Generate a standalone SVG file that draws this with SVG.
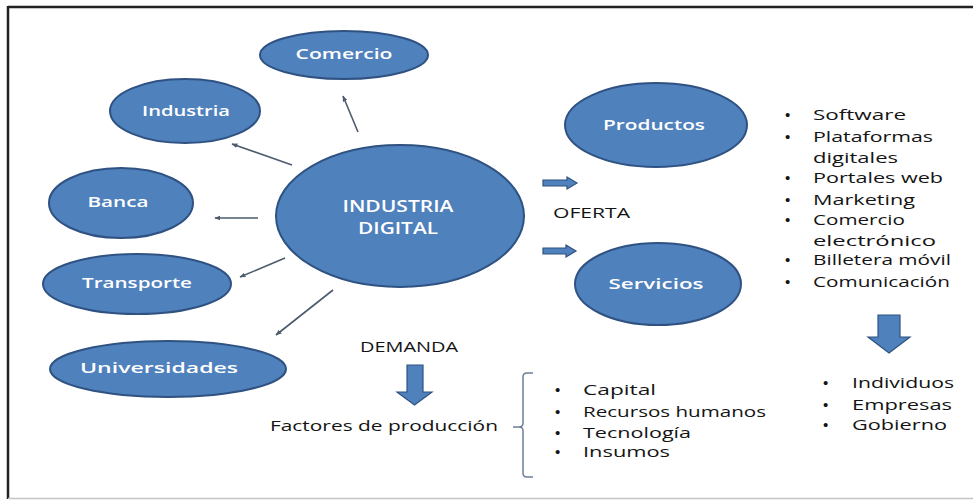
<svg xmlns="http://www.w3.org/2000/svg" width="973" height="500" viewBox="0 0 973 500">
  <defs>
    <style>
      .node { fill: #4f81bd; stroke: #2f5282; stroke-width: 2; }
      .lbl { font-family: "Open Sans", "Liberation Sans", sans-serif; font-size: 15px; font-weight: 600; fill: #ffffff; text-anchor: middle; }
      .big { font-size: 17px; }
      .txt { font-family: "Open Sans", "Liberation Sans", sans-serif; font-size: 15px; fill: #141414; }
      .bul { font-family: "Liberation Sans", sans-serif; font-size: 15px; fill: #141414; }
      .conn { stroke: #4d5b6e; stroke-width: 1.6; fill: none; marker-end: url(#ah); }
      .block { fill: #4f81bd; stroke: #2f5282; stroke-width: 1.2; }
    </style>
    <marker id="ah" viewBox="0 0 10 10" refX="9" refY="5" markerWidth="6" markerHeight="6" orient="auto" markerUnits="userSpaceOnUse">
      <path d="M0,1 L10,5 L0,9 Z" fill="#4d5b6e"/>
    </marker>
  </defs>

  <rect x="0" y="0" width="973" height="500" fill="#ffffff"/>

  <!-- frame -->
  <g id="frame">
    <line x1="8" y1="7" x2="973" y2="7" stroke="#222" stroke-width="2.5"/>
    <line x1="8" y1="6" x2="8" y2="499" stroke="#222" stroke-width="2.5"/>
    <line x1="8" y1="498.5" x2="973" y2="498.5" stroke="#c4c4c4" stroke-width="1.5"/>
  </g>

  <!-- connectors -->
  <g id="connectors">
    <line class="conn" x1="358" y1="132" x2="343" y2="96"/>
    <line class="conn" x1="292" y1="165" x2="232" y2="144"/>
    <line class="conn" x1="258" y1="218" x2="215" y2="218"/>
    <line class="conn" x1="285" y1="258" x2="240" y2="277"/>
    <line class="conn" x1="333" y1="290" x2="276" y2="335"/>
    <path class="block" d="M543,180 H567 V177 L577,183 L567,189 V186 H543 Z"/>
    <path class="block" d="M543,248 H566 V245 L576,251 L566,257 V254 H543 Z"/>
    <path class="block" d="M407,365 H423 V392 H432 L414.5,405 L397,392 H407 Z"/>
    <path class="block" d="M878,315 H900 V337 H910 L889,353 L868,337 H878 Z"/>
    <path d="M533,373 H527 Q523,373 523,377 V423 Q523,427 519,427 H513 M519,427 Q523,427 523,431 V473 Q523,477 527,477 H533" fill="none" stroke="#6b7f99" stroke-width="1.5"/>
  </g>

  <g id="n-digital">
    <ellipse class="node" cx="400" cy="216" rx="124" ry="71"/>
    <text class="lbl big" x="398" y="212" textLength="111" lengthAdjust="spacingAndGlyphs">INDUSTRIA</text>
    <text class="lbl big" x="398" y="234" textLength="80" lengthAdjust="spacingAndGlyphs">DIGITAL</text>
  </g>
  <g id="n-comercio">
    <ellipse class="node" cx="344" cy="55" rx="84" ry="24"/>
    <text class="lbl" x="344" y="59" textLength="97" lengthAdjust="spacingAndGlyphs">Comercio</text>
  </g>
  <g id="n-industria">
    <ellipse class="node" cx="185" cy="111" rx="75" ry="32"/>
    <text class="lbl" x="186" y="116" textLength="88" lengthAdjust="spacingAndGlyphs">Industria</text>
  </g>
  <g id="n-banca">
    <ellipse class="node" cx="121" cy="203" rx="72" ry="35"/>
    <text class="lbl" x="118" y="207" textLength="61" lengthAdjust="spacingAndGlyphs">Banca</text>
  </g>
  <g id="n-transporte">
    <ellipse class="node" cx="137" cy="284" rx="94" ry="30"/>
    <text class="lbl" x="137" y="288" textLength="110" lengthAdjust="spacingAndGlyphs">Transporte</text>
  </g>
  <g id="n-universidades">
    <ellipse class="node" cx="168" cy="369" rx="118" ry="28"/>
    <text class="lbl" x="159" y="373" textLength="158" lengthAdjust="spacingAndGlyphs">Universidades</text>
  </g>
  <g id="n-productos">
    <ellipse class="node" cx="656" cy="125" rx="91" ry="42"/>
    <text class="lbl" x="654" y="130" textLength="102" lengthAdjust="spacingAndGlyphs">Productos</text>
  </g>
  <g id="n-servicios">
    <ellipse class="node" cx="658" cy="284" rx="83" ry="41"/>
    <text class="lbl" x="656" y="289" textLength="95" lengthAdjust="spacingAndGlyphs">Servicios</text>
  </g>

  <!-- labels -->
  <g id="oferta">
    <text class="txt" x="553" y="218" textLength="77" lengthAdjust="spacingAndGlyphs">OFERTA</text>
  </g>
  <g id="demanda">
    <text class="txt" x="360" y="352" textLength="98" lengthAdjust="spacingAndGlyphs">DEMANDA</text>
    <text class="txt" x="270" y="431" textLength="228" lengthAdjust="spacingAndGlyphs">Factores de producción</text>
  </g>

  <!-- product / service list -->
  <g id="list-oferta">
    <text class="bul" x="785" y="120">•</text>
    <text class="txt" x="813" y="120" textLength="93" lengthAdjust="spacingAndGlyphs">Software</text>
    <text class="bul" x="785" y="142">•</text>
    <text class="txt" x="813" y="142" textLength="120" lengthAdjust="spacingAndGlyphs">Plataformas</text>
    <text class="txt" x="813" y="163" textLength="85" lengthAdjust="spacingAndGlyphs">digitales</text>
    <text class="bul" x="785" y="183">•</text>
    <text class="txt" x="813" y="183" textLength="130" lengthAdjust="spacingAndGlyphs">Portales web</text>
    <text class="bul" x="785" y="205">•</text>
    <text class="txt" x="813" y="205" textLength="102" lengthAdjust="spacingAndGlyphs">Marketing</text>
    <text class="bul" x="785" y="225">•</text>
    <text class="txt" x="813" y="225" textLength="92" lengthAdjust="spacingAndGlyphs">Comercio</text>
    <text class="txt" x="813" y="246" textLength="123" lengthAdjust="spacingAndGlyphs">electrónico</text>
    <text class="bul" x="785" y="265">•</text>
    <text class="txt" x="813" y="265" textLength="138" lengthAdjust="spacingAndGlyphs">Billetera móvil</text>
    <text class="bul" x="785" y="287">•</text>
    <text class="txt" x="813" y="287" textLength="137" lengthAdjust="spacingAndGlyphs">Comunicación</text>
  </g>

  <!-- consumers list -->
  <g id="list-destino">
    <text class="bul" x="823" y="388">•</text>
    <text class="txt" x="852" y="388" textLength="102" lengthAdjust="spacingAndGlyphs">Individuos</text>
    <text class="bul" x="823" y="410">•</text>
    <text class="txt" x="852" y="410" textLength="100" lengthAdjust="spacingAndGlyphs">Empresas</text>
    <text class="bul" x="823" y="430">•</text>
    <text class="txt" x="852" y="430" textLength="95" lengthAdjust="spacingAndGlyphs">Gobierno</text>
  </g>

  <!-- production factors list -->
  <g id="list-factores">
    <text class="bul" x="555" y="395">•</text>
    <text class="txt" x="583" y="395" textLength="73" lengthAdjust="spacingAndGlyphs">Capital</text>
    <text class="bul" x="555" y="417">•</text>
    <text class="txt" x="583" y="417" textLength="183" lengthAdjust="spacingAndGlyphs">Recursos humanos</text>
    <text class="bul" x="555" y="438">•</text>
    <text class="txt" x="583" y="438" textLength="108" lengthAdjust="spacingAndGlyphs">Tecnología</text>
    <text class="bul" x="555" y="457">•</text>
    <text class="txt" x="583" y="457" textLength="87" lengthAdjust="spacingAndGlyphs">Insumos</text>
  </g>
</svg>
